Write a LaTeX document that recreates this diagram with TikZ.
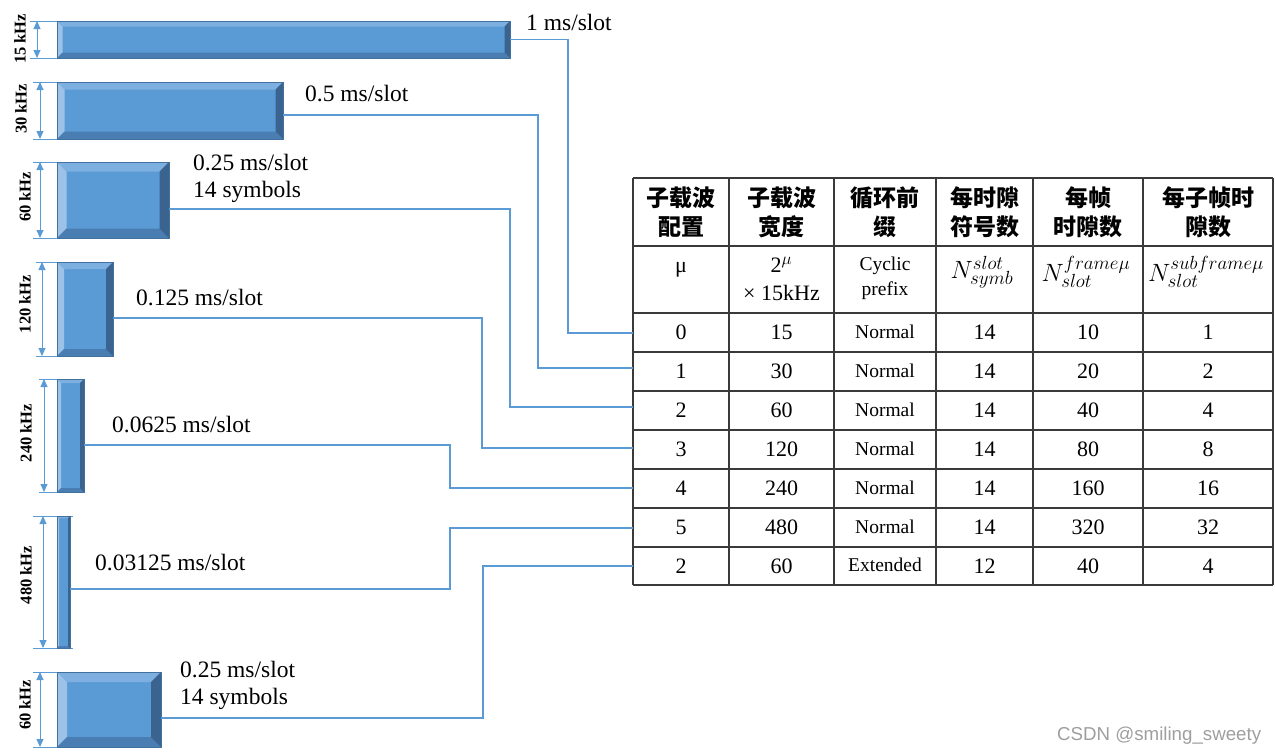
\RequirePackage{fix-cm}
\documentclass[tikz,border=0pt]{standalone}
\usepackage{fontspec}
\setmainfont{Liberation Serif}
\newfontfamily\cjk{Noto Sans CJK SC}
\newfontfamily\wmfont{Liberation Sans}
\usetikzlibrary{arrows.meta,calc}
\DeclareMathSizes{22}{22}{17}{13}
\DeclareMathSizes{25}{25}{19}{14}

\definecolor{bmain}{HTML}{5B9BD5}
\definecolor{btop}{HTML}{7DAFE0}
\definecolor{bleft}{HTML}{9CC2E8}
\definecolor{bbot}{HTML}{4A7EB3}
\definecolor{bright}{HTML}{3B6390}
\definecolor{bedge}{HTML}{41719C}
\definecolor{connc}{HTML}{5B9BD5}
\definecolor{gridc}{HTML}{3A3A3A}

% name, x1, y1, x2, y2, bevel
\newcommand\bevbox[6]{%
  \fill[bmain] (#2,#3) rectangle (#4,#5);
  \fill[btop] (#2,#3) -- (#4,#3) -- (#4-#6,#3+#6) -- (#2+#6,#3+#6) -- cycle;
  \fill[bleft] (#2,#3) -- (#2+#6,#3+#6) -- (#2+#6,#5-#6) -- (#2,#5) -- cycle;
  \fill[bbot] (#2,#5) -- (#2+#6,#5-#6) -- (#4-#6,#5-#6) -- (#4,#5) -- cycle;
  \fill[bright] (#4,#3) -- (#4,#5) -- (#4-#6,#5-#6) -- (#4-#6,#3+#6) -- cycle;
  \draw[bedge, line width=0.5pt] (#2,#3) rectangle (#4,#5);
  \path node[inner sep=0pt, outer sep=0pt, minimum width={#4pt-#2pt}, minimum height={#5pt-#3pt}]
    (#1) at ({(#2+#4)/2},{(#3+#5)/2}) {};
}
% x, y1, y2, ext-left, ext-right
\newcommand\dimarrow[5]{%
  \draw[dimline] (#4,#2) -- (#5,#2);
  \draw[dimline] (#4,#3) -- (#5,#3);
  \draw[dimline, {Triangle[width=7pt,length=8pt]}-{Triangle[width=7pt,length=8pt]}] (#1,#2) -- (#1,#3);
}

\begin{document}
\begin{tikzpicture}[x=1pt,y=-1pt,
  dimline/.style={draw=connc, line width=0.9pt},
  conn/.style={draw=connc, line width=1.6pt},
  dimlab/.style={rotate=90, inner sep=0pt, font=\fontsize{16.5}{19}\selectfont\bfseries},
  slotlab/.style={anchor=west, inner sep=0pt, font=\fontsize{23.5}{28}\selectfont},
  grid/.style={draw=gridc, line width=1.3pt},
  head/.style={align=center, inner sep=0pt, font=\cjk\bfseries\fontsize{23}{29}\selectfont},
  num/.style={inner sep=0pt, font=\fontsize{22}{26}\selectfont},
  sym/.style={inner sep=0pt, font=\fontsize{25}{28}\selectfont},
  word/.style={inner sep=0pt, font=\fontsize{19.5}{25}\selectfont},
]
\useasboundingbox (0,0) rectangle (1275,755);

% dimension marks
\dimarrow{37}{21}{58}{30}{70}
\dimarrow{40}{82}{139}{33}{73}
\dimarrow{40}{162}{238}{33}{73}
\dimarrow{42}{262}{356}{36}{75}
\dimarrow{44}{379}{492}{39}{76}
\dimarrow{43}{516}{648}{33}{73}
\dimarrow{40}{672}{747}{33}{73}

% boxes
\bevbox{b1}{57}{21}{510}{58}{5.5}
\bevbox{b2}{57}{82}{283}{139}{7.5}
\bevbox{b3}{57}{162}{169}{238}{9.5}
\bevbox{b4}{57}{262}{113}{356}{7}
\bevbox{b5}{57}{379}{84}{492}{4}
\bevbox{b6}{57}{516}{70}{648}{2}
\bevbox{b7}{57}{672}{161}{747}{10}

% frequency labels
\node[dimlab] (f1) at (20,39) {15 kHz};
\node[dimlab] (f2) at (21,109) {30 kHz};
\node[dimlab] (f3) at (25,197) {60 kHz};
\node[dimlab] (f4) at (25,304) {120 kHz};
\node[dimlab] (f5) at (26,433) {240 kHz};
\node[dimlab] (f6) at (26,575) {480 kHz};
\node[dimlab] (f7) at (25,705) {60 kHz};

% slot labels
\node[slotlab] (s1) at (526,22) {1 ms/slot};
\node[slotlab] (s2) at (305,94) {0.5 ms/slot};
\node[slotlab] (s3a) at (193,163) {0.25 ms/slot};
\node[slotlab] (s3b) at (193,192) {14 symbols};
\node[slotlab] (s4) at (136,298) {0.125 ms/slot};
\node[slotlab] (s5) at (112,425) {0.0625 ms/slot};
\node[slotlab] (s6) at (95,563) {0.03125 ms/slot};
\node[slotlab] (s7a) at (180,670) {0.25 ms/slot};
\node[slotlab] (s7b) at (180,699) {14 symbols};

% table grid
\foreach \yy in {178,246,313,352,391,430,469,508,547,585}
  \draw[grid] (633,\yy) -- (1273,\yy);
\foreach \xx in {633,729,834,936,1033,1143,1273}
  \draw[grid] (\xx,178) -- (\xx,585);

% header
\node[head] (h1) at (681,212.5) {子载波\\配置};
\node[head] (h2) at (781.5,212.5) {子载波\\宽度};
\node[head] (h3) at (885,212.5) {循环前\\缀};
\node[head] (h4) at (984.5,212.5) {每时隙\\符号数};
\node[head] (h5) at (1088,212.5) {每帧\\时隙数};
\node[head] (h6) at (1208,212.5) {每子帧时\\隙数};

% symbol row
\node[num] (u1) at (681,270) {μ};
\node[num, align=center, font=\fontsize{22}{28}\selectfont] (u2) at (781.5,279) {2$^{\mu}$\\× 15kHz};
\node[word, align=center] (u3) at (885,278) {Cyclic\\prefix};
\node[sym] (u4) at (982,272) {$N^{slot}_{symb}$};
\node[sym] (u5) at (1086,272) {$N^{frame\mu}_{slot}$};
\node[sym] (u6) at (1206,272) {$N^{subframe\mu}_{slot}$};

% data rows
\foreach \i/\a/\b/\c/\d/\e/\f/\y in {
  1/0/15/Normal/14/10/1/332.5,
  2/1/30/Normal/14/20/2/371.5,
  3/2/60/Normal/14/40/4/410.5,
  4/3/120/Normal/14/80/8/449.5,
  5/4/240/Normal/14/160/16/488.5,
  6/5/480/Normal/14/320/32/527.5,
  7/2/60/Extended/12/40/4/566}{
  \node[num] (c\i a) at (681,\y) {\a};
  \node[num] (c\i b) at (781.5,\y) {\b};
  \node[word] (c\i c) at (885,\y-1) {\c};
  \node[num] (c\i d) at (984.5,\y) {\d};
  \node[num] (c\i e) at (1088,\y) {\e};
  \node[num] (c\i f) at (1208,\y) {\f};
}

% connector end points at the table
\coordinate (t1) at (633,333);
\coordinate (t2) at (633,368);
\coordinate (t3) at (633,407);
\coordinate (t4) at (633,448);
\coordinate (t5) at (633,488);
\coordinate (t6) at (633,528);
\coordinate (t7) at (633,566);

% connectors
\draw[conn] (b1.east) -| ([xshift=-65pt]t1) -- (t1);
\draw[conn] ([yshift=-4.5pt]b2.east) -| ([xshift=-95pt]t2) -- (t2);
\draw[conn] ([yshift=-9pt]b3.east) -| ([xshift=-123pt]t3) -- (t3);
\draw[conn] ([yshift=-9pt]b4.east) -| ([xshift=-151pt]t4) -- (t4);
\draw[conn] ([yshift=-9.5pt]b5.east) -| ([xshift=-183pt]t5) -- (t5);
\draw[conn] ([yshift=-7pt]b6.east) -| ([xshift=-183pt]t6) -- (t6);
\draw[conn] ([yshift=-8.5pt]b7.east) -| ([xshift=-150pt]t7) -- (t7);

% watermark
\node[anchor=west, inner sep=0pt, text=black!38, font=\wmfont\fontsize{18.7}{20}\selectfont] (wm) at (1057,736) {CSDN @smiling\_sweety};
\end{tikzpicture}
\end{document}
